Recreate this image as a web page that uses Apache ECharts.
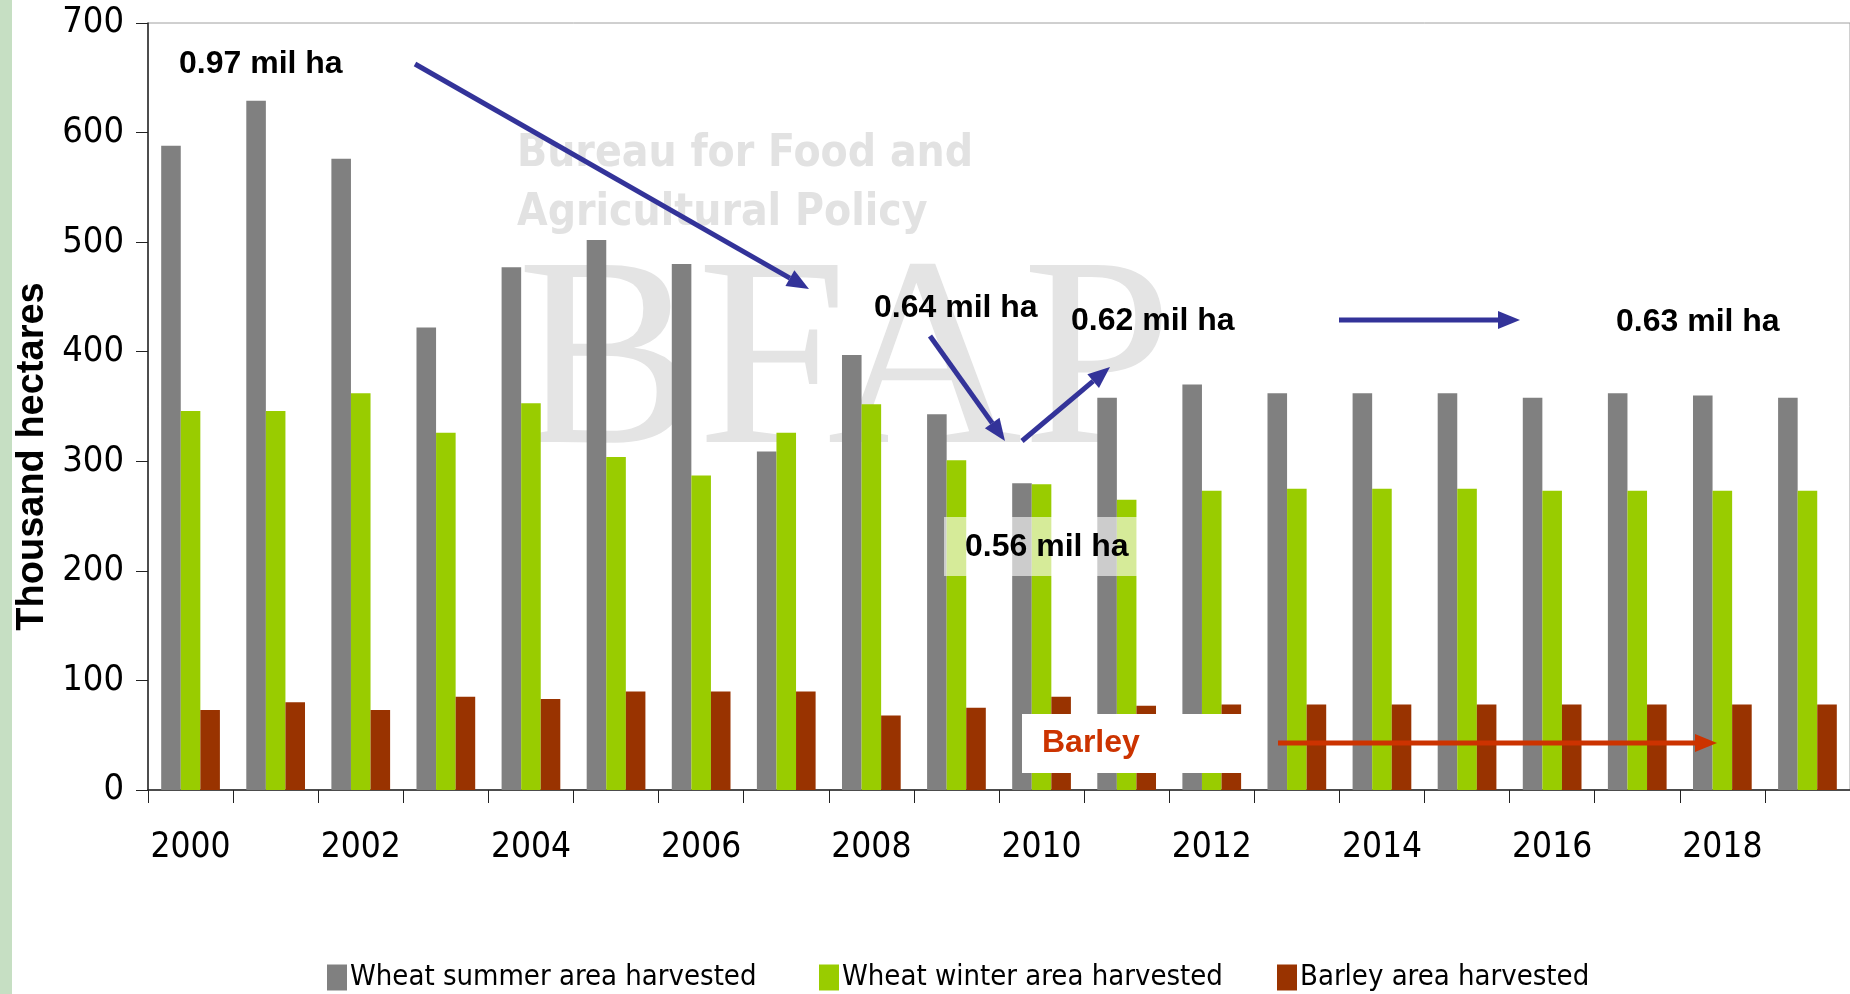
<!DOCTYPE html>
<html>
<head>
<meta charset="utf-8">
<title>Wheat and barley area harvested</title>
<script src="https://cdn.jsdelivr.net/npm/echarts@6/dist/echarts.min.js"></script>
<style>
  html, body { margin: 0; padding: 0; background: #fff; }
  #chart { width: 1850px; height: 994px; }
</style>
</head>
<body>
<div id="chart"></div>
<script>
// data (thousand hectares)
const years = ["2000", "2001", "2002", "2003", "2004", "2005", "2006", "2007", "2008", "2009",
  "2010", "2011", "2012", "2013", "2014", "2015", "2016", "2017", "2018", "2019"];
const summerArea = [588, 629, 576, 422, 477, 502, 480, 309, 397, 343, 280, 358, 370, 362, 362, 362, 358, 362, 360, 358];
const winterArea = [346, 346, 362, 326, 353, 304, 287, 326, 352, 301, 279, 265, 273, 275, 275, 275, 273, 273, 273, 273];
const barleyArea = [73, 80, 73, 85, 83, 90, 90, 90, 68, 75, 85, 77, 78, 78, 78, 78, 78, 78, 78, 78];
const seriesNames = ["Wheat summer area harvested", "Wheat winter area harvested", "Barley area harvested"];

const narrow = "'Liberation Sans Narrow', 'DejaVu Sans Condensed', Arial, sans-serif";
const bold = "bold 32px 'Liberation Sans', Arial, sans-serif";
const blue = "#333399";
const red = "#cc3300";

function arrow(x1, y1, x2, y2, color) {
  const ang = Math.atan2(y2 - y1, x2 - x1);
  const len = 22, half = 9;
  const bx = x2 - len * Math.cos(ang), by = y2 - len * Math.sin(ang);
  const px = -Math.sin(ang) * half, py = Math.cos(ang) * half;
  return [
    { type: "line", z: 20, silent: true, shape: { x1: x1, y1: y1, x2: bx, y2: by }, style: { stroke: color, lineWidth: 5 } },
    { type: "polygon", z: 20, silent: true, shape: { points: [[x2, y2], [bx + px, by + py], [bx - px, by - py]] }, style: { fill: color } }
  ];
}

function note(x, y, text, color) {
  return { type: "text", z: 21, silent: true, x: x, y: y,
    style: { text: text, fill: color || "#000", font: bold, align: "left", verticalAlign: "middle" } };
}

function legendAt(left, name) {
  return {
    left: left, top: 958, icon: "rect", itemWidth: 20, itemHeight: 26, itemGap: 0,
    data: [name], selectedMode: false,
    textStyle: { color: "#000", fontSize: 29, fontFamily: narrow, padding: [0, 0, 0, -2] }
  };
}

const chart = echarts.init(document.getElementById("chart"));

const option = {
  animation: false,
  backgroundColor: "#fff",
  color: ["#808080", "#99cc00", "#993300"],
  grid: { left: 148, right: 0, top: 23, bottom: 204, show: true, borderColor: "#a0a0a0", borderWidth: 1 },
  legend: [legendAt(322, seriesNames[0]), legendAt(814, seriesNames[1]), legendAt(1272, seriesNames[2])],
  xAxis: {
    type: "category",
    data: years,
    axisLine: { lineStyle: { color: "#222", width: 1.5 } },
    axisTick: { show: true, interval: 0, length: 13, lineStyle: { color: "#222" } },
    axisLabel: { interval: 1, margin: 40, color: "#000", fontSize: 35, fontFamily: narrow }
  },
  yAxis: {
    type: "value",
    min: 0,
    max: 700,
    interval: 100,
    name: "Thousand hectares",
    nameLocation: "middle",
    nameGap: 90,
    nameTextStyle: { color: "#000", fontSize: 38, fontWeight: "bold", fontFamily: "'Liberation Sans', Arial, sans-serif", padding: [0, 100, 0, 0] },
    axisLine: { show: true, lineStyle: { color: "#222", width: 1.5 } },
    axisTick: { show: true, length: 12, lineStyle: { color: "#222" } },
    splitLine: { show: false },
    axisLabel: { margin: 24, color: "#000", fontSize: 36, fontFamily: narrow }
  },
  series: [
    { name: seriesNames[0], type: "bar", data: summerArea, barGap: "0%", barCategoryGap: "31%" },
    { name: seriesNames[1], type: "bar", data: winterArea, barGap: "0%", barCategoryGap: "31%" },
    { name: seriesNames[2], type: "bar", data: barleyArea, barGap: "0%", barCategoryGap: "31%" }
  ],
  graphic: [
    // left edge strip of the slide
    { type: "rect", z: 0, silent: true, shape: { x: 0, y: 0, width: 12, height: 994 }, style: { fill: "#c6dfc3" } },
    // faint BFAP watermark
    { type: "text", z: 0, silent: true, x: 517, y: 155,
      style: { text: "Bureau for Food and", fill: "#e2e2e2", font: "bold 44px " + narrow, verticalAlign: "middle" } },
    { type: "text", z: 0, silent: true, x: 517, y: 214,
      style: { text: "Agricultural Policy", fill: "#e2e2e2", font: "bold 44px " + narrow, verticalAlign: "middle" } },
    { type: "text", z: 0, silent: true, x: 517, y: 236,
      style: { text: "BFAP", fill: "#e4e4e4", font: "270px 'Liberation Serif', serif", verticalAlign: "top" } },
    // 0.56 box (translucent) and Barley box
    { type: "rect", z: 19, silent: true, shape: { x: 944, y: 517, width: 229, height: 59 }, style: { fill: "rgba(255,255,255,0.6)" } },
    { type: "rect", z: 19, silent: true, shape: { x: 1022, y: 714, width: 223, height: 59 }, style: { fill: "#fff" } },
    note(179, 64, "0.97 mil ha"),
    note(874, 308, "0.64 mil ha"),
    note(1071, 321, "0.62 mil ha"),
    note(1616, 322, "0.63 mil ha"),
    note(965, 547, "0.56 mil ha"),
    note(1042, 743, "Barley", red)
  ].concat(
    arrow(415, 64, 809, 289, blue),
    arrow(930, 336, 1005, 441, blue),
    arrow(1022, 441, 1110, 367, blue),
    arrow(1339, 320, 1520, 320, blue),
    arrow(1278, 743, 1717, 743, red)
  )
};

chart.setOption(option);
</script>
</body>
</html>
